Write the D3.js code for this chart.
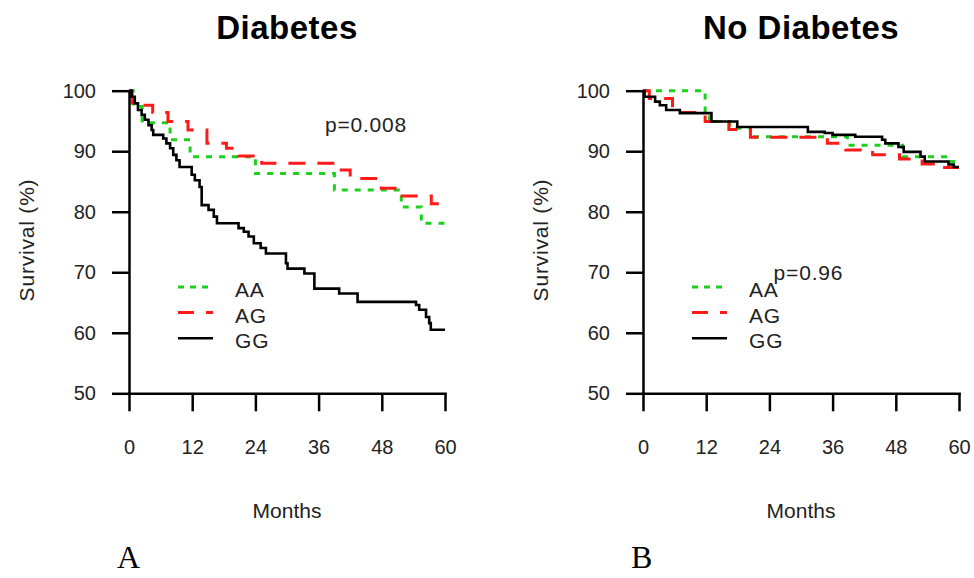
<!DOCTYPE html>
<html>
<head>
<meta charset="utf-8">
<script src="https://cdn.jsdelivr.net/npm/d3@7"></script>
<style>
  body { margin: 0; background: #fff; }
  svg { display: block; }
  .tick text { font-family: "Liberation Sans", Arial, sans-serif; font-size: 20px; fill: #222; }
</style>
</head>
<body>
<div id="chart"></div>
<script>
// km curves: months and survival (%) at each step
var genotypes = ["AA", "AG", "GG"];
var monthTicks = [0, 12, 24, 36, 48, 60];
var survTicks = [50, 60, 70, 80, 90, 100];

// Diabetes
var aaDiabT = [0, 0.8, 2.5, 7.8, 11.6, 24.0, 39.0, 51.7, 55.5, 60];
var aaDiabS = [100, 97.4, 94.7, 91.9, 89.1, 86.3, 83.6, 80.8, 78.1, 78.1];
var agDiabT = [0, 0.6, 4.5, 7.4, 11.2, 14.8, 18.5, 20.8, 25.2, 39.4, 42.0, 47.9, 51.4, 57.4, 60];
var agDiabS = [100, 97.6, 96.4, 94.9, 93.5, 91.3, 90.5, 89.2, 88.0, 86.9, 85.5, 83.9, 82.6, 81.3, 81.3];
var ggDiabT = [0, 0.5, 1.1, 1.7, 2.4, 3.0, 3.7, 4.3, 4.6, 6.5, 7.1, 7.8, 8.4, 9.0, 9.6, 11.9, 12.5, 13.4, 13.8, 15.1, 16.1, 16.7, 20.8, 21.8, 22.7, 23.7, 25.0, 26.0, 29.8, 30.1, 33.3, 35.2, 39.9, 43.4, 54.5, 55.1, 56.4, 57.0, 57.3, 60];
var ggDiabS = [100, 99.0, 97.9, 96.8, 96.0, 95.2, 94.3, 93.5, 92.7, 92.1, 91.3, 90.5, 89.4, 88.5, 87.4, 86.1, 85.2, 84.1, 81.1, 80.3, 79.2, 78.1, 77.3, 76.7, 75.9, 74.8, 74.0, 73.1, 71.5, 70.6, 69.8, 67.3, 66.5, 65.1, 64.6, 63.8, 62.6, 61.6, 60.5, 60.5];

// No diabetes
var aaNodT = [0, 11.8, 12.6, 16.5, 20.4, 38.8, 49.3, 58.2, 60];
var aaNodS = [100, 96.2, 94.9, 93.8, 92.4, 91.0, 89.1, 88.3, 88.3];
var agNodT = [0, 1.2, 5.6, 11.8, 16.3, 20.4, 35.0, 38.5, 43.6, 48.7, 53.0, 56.5, 60];
var agNodS = [100, 98.7, 96.4, 94.9, 93.6, 92.3, 91.3, 90.2, 89.4, 88.7, 87.9, 87.3, 87.3];
var ggNodT = [0, 0.3, 2.3, 3.2, 4.4, 7.0, 13.0, 17.9, 31.3, 34.5, 36.0, 40.3, 45.4, 46.0, 48.5, 49.5, 52.7, 53.5, 58.0, 59.0, 60];
var ggNodS = [100, 99.0, 98.2, 97.6, 96.8, 96.3, 94.9, 94.0, 93.2, 93.0, 92.7, 92.4, 91.9, 91.3, 90.7, 89.9, 89.1, 88.3, 87.8, 87.4, 87.4];

var width = 974, height = 578;
var font = '"Liberation Sans", Arial, sans-serif';

// line look per genotype
var lineStyle = {
  AA: { color: "#1ed01e", width: 3, dash: "6,7" },
  AG: { color: "#ff1a1a", width: 3, dash: "17,12" },
  GG: { color: "#000", width: 2.6, dash: null }
};

var svg = d3.select("#chart").append("svg")
  .attr("width", width)
  .attr("height", height);

function zip(t, s) {
  return t.map(function(d, i) { return { t: d, s: s[i] }; });
}

function drawPanel(opts) {
  var x = d3.scaleLinear().domain([0, 60]).range([opts.left, opts.left + 316]);
  var y = d3.scaleLinear().domain([50, 100]).range([393.3, 90.7]);

  var g = svg.append("g");

  // curves, drawn under the axes
  var line = d3.line()
    .x(function(d) { return x(d.t); })
    .y(function(d) { return y(d.s); })
    .curve(d3.curveStepAfter);

  opts.series.forEach(function(ser) {
    var st = lineStyle[ser.name];
    g.append("path")
      .datum(zip(ser.t, ser.s))
      .attr("d", line)
      .attr("fill", "none")
      .attr("stroke", st.color)
      .attr("stroke-width", st.width)
      .attr("stroke-dasharray", st.dash);
  });

  var yAxis = g.append("g")
    .attr("transform", "translate(" + opts.left + ",0)")
    .call(d3.axisLeft(y).tickValues(survTicks).tickSize(17).tickSizeOuter(0).tickPadding(16));
  var xAxis = g.append("g")
    .attr("transform", "translate(0,393.3)")
    .call(d3.axisBottom(x).tickValues(monthTicks).tickSize(18).tickSizeOuter(0).tickPadding(29));

  [yAxis, xAxis].forEach(function(a) {
    a.selectAll("path, line").attr("stroke", "#000").attr("stroke-width", 2.5);
    a.select(".domain").attr("stroke-linecap", "square");
  });

  // title
  g.append("text")
    .attr("x", opts.left + 158)
    .attr("y", 39)
    .attr("text-anchor", "middle")
    .style("font-family", font)
    .style("font-weight", "bold")
    .style("font-size", "33px")
    .style("letter-spacing", "0.5px")
    .text(opts.title);

  // axis titles
  g.append("text")
    .attr("transform", "translate(" + (opts.left - 95) + ",240) rotate(-90)")
    .attr("text-anchor", "middle")
    .style("font-family", font)
    .style("font-size", "21px")
    .style("letter-spacing", "0.8px")
    .style("fill", "#222")
    .text("Survival (%)");

  g.append("text")
    .attr("x", opts.left + 158)
    .attr("y", 518)
    .attr("text-anchor", "middle")
    .style("font-family", font)
    .style("font-size", "21px")
    .style("fill", "#222")
    .text("Months");

  // p value
  g.append("text")
    .attr("x", x(opts.pAt[0]))
    .attr("y", y(opts.pAt[1]))
    .style("font-family", font)
    .style("font-size", "21px")
    .style("letter-spacing", "0.8px")
    .style("fill", "#222")
    .text(opts.p);

  // legend
  var leg = g.append("g")
    .attr("transform", "translate(" + (opts.left + 49) + ",287)");
  genotypes.forEach(function(name, i) {
    var st = lineStyle[name];
    leg.append("line")
      .attr("x1", 0).attr("x2", 35)
      .attr("y1", i * 25.6).attr("y2", i * 25.6)
      .attr("stroke", st.color)
      .attr("stroke-width", st.width)
      .attr("stroke-dasharray", name == "AA" ? "6,6" : (name == "AG" ? "16,12" : null));
    leg.append("text")
      .attr("x", 57)
      .attr("y", i * 25.6 + 10)
      .style("font-family", font)
      .style("font-size", "21px")
      .style("letter-spacing", "0.8px")
      .style("fill", "#222")
      .text(name);
  });

  // panel letter
  svg.append("text")
    .attr("x", opts.left - 12)
    .attr("y", 568)
    .style("font-family", '"Liberation Serif", "Times New Roman", serif')
    .style("font-size", "32px")
    .text(opts.letter);
}

drawPanel({
  left: 129,
  title: "Diabetes",
  letter: "A",
  p: "p=0.008",
  pAt: [37.2, 93.2],
  series: [
    { name: "AA", t: aaDiabT, s: aaDiabS },
    { name: "AG", t: agDiabT, s: agDiabS },
    { name: "GG", t: ggDiabT, s: ggDiabS }
  ]
});

drawPanel({
  left: 643,
  title: "No Diabetes",
  letter: "B",
  p: "p=0.96",
  pAt: [24.8, 68.8],
  series: [
    { name: "AA", t: aaNodT, s: aaNodS },
    { name: "AG", t: agNodT, s: agNodS },
    { name: "GG", t: ggNodT, s: ggNodS }
  ]
});
</script>
</body>
</html>
